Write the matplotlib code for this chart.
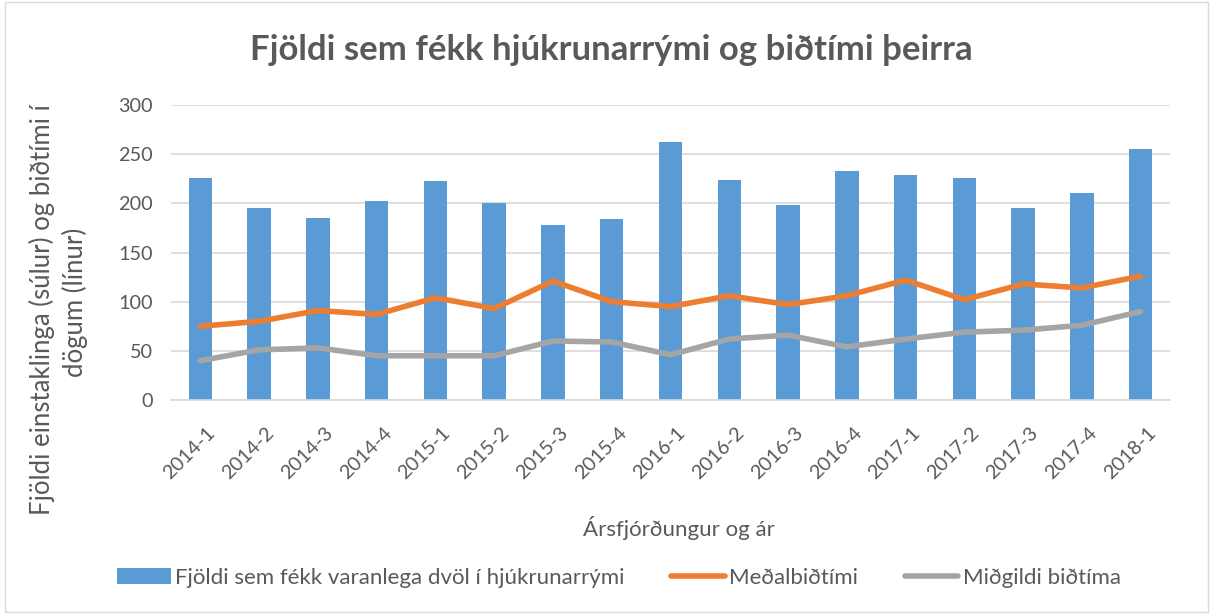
import matplotlib
matplotlib.use("Agg")
import matplotlib.pyplot as plt
from matplotlib.patches import Rectangle
from matplotlib.transforms import ScaledTranslation

# Gögn lesin af myndinni
timabil = ["2014-1", "2014-2", "2014-3", "2014-4", "2015-1", "2015-2", "2015-3", "2015-4",
           "2016-1", "2016-2", "2016-3", "2016-4", "2017-1", "2017-2", "2017-3", "2017-4",
           "2018-1"]
fjoldi = [226, 195, 185, 202, 223, 200, 178, 184, 262, 224, 198, 233, 229, 226, 195, 211, 255]
medal = [75, 80, 91, 87, 104, 93, 121, 100, 95, 106, 97, 106, 122, 102, 118, 114, 126]
midgildi = [40, 51, 53, 45, 45, 45, 60, 59, 46, 62, 66, 54, 62, 69, 71, 76, 90]

plt.rcParams["font.family"] = ["Lato", "DejaVu Sans"]
grar = "#595959"
W, H = 1213, 614

fig = plt.figure(figsize=(W / 100, H / 100), dpi=100)
ax = fig.add_axes([171 / W, 1 - 400 / H, 999 / W, 295 / H])

x = list(range(len(timabil)))
b = ax.bar(x, fjoldi, width=0.4, color="#5b9bd5", zorder=2)
l1, = ax.plot(x, medal, color="#ed7d31", lw=4, solid_capstyle="round", zorder=3)
l2, = ax.plot(x, midgildi, color="#a5a5a5", lw=4, solid_capstyle="round", zorder=3)

ax.set_xlim(-0.5, len(timabil) - 0.5)
ax.set_ylim(0, 300)
ax.set_yticks(range(0, 301, 50))
ax.grid(axis="y", color="#d9d9d9", lw=1.2, zorder=0)
for s in ["top", "right", "left"]:
    ax.spines[s].set_visible(False)
ax.spines["bottom"].set_color("#d9d9d9")
ax.spines["bottom"].set_linewidth(1.2)
ax.tick_params(axis="both", length=0, colors=grar, labelsize=14.3)
ax.tick_params(axis="y", pad=13)
ax.tick_params(axis="x", pad=0)
ax.set_xticks(x)
ax.set_xticklabels(timabil, rotation=45, ha="right", rotation_mode="anchor")
hlidrun = ScaledTranslation(6 / 100, -24 / 100, fig.dpi_scale_trans)
for t in ax.get_xticklabels():
    t.set_transform(t.get_transform() + hlidrun)

fig.text(679 / W, 1 - 528 / H, "Ársfjórðungur og ár", ha="center", va="center",
         fontsize=16, color=grar)

# y-ás titill í tveimur línum
fig.text(42 / W, 1 - 310 / H, "Fjöldi einstaklinga (súlur) og biðtími í",
         rotation=90, ha="center", va="center", fontsize=18.5, color=grar)
fig.text(75 / W, 1 - 302 / H, "dögum (línur)",
         rotation=90, ha="center", va="center", fontsize=18.5, color=grar)

fig.text(611 / W, 1 - 50 / H, "Fjöldi sem fékk hjúkrunarrými og biðtími þeirra",
         ha="center", va="center", fontsize=25, fontweight="bold", color=grar)

fig.legend([b, l1, l2],
           ["Fjöldi sem fékk varanlega dvöl í hjúkrunarrými", "Meðalbiðtími", "Miðgildi biðtíma"],
           loc="center", bbox_to_anchor=(619 / W, 1 - 578 / H), ncol=3, frameon=False,
           fontsize=16, labelcolor=grar, handlelength=2.4, handletextpad=0.2,
           columnspacing=2.1)

fig.patches.append(Rectangle((0.004, 0.004), 0.992, 0.992, transform=fig.transFigure,
                             fill=False, edgecolor="#d9d9d9", lw=1))

fig.savefig("out.png", dpi=100)
